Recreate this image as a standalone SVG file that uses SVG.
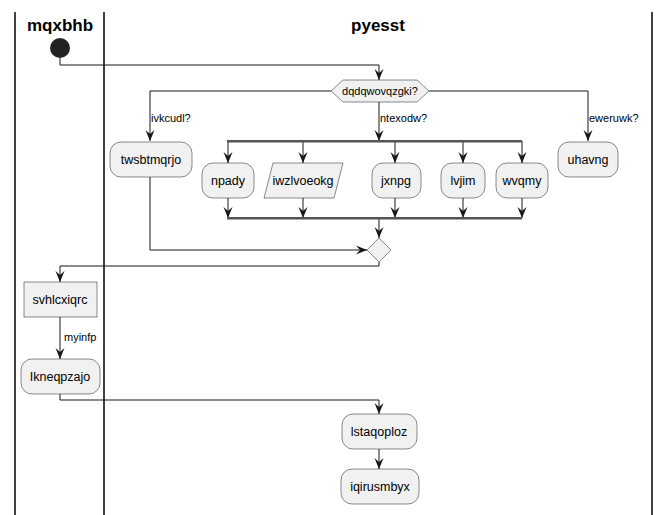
<svg xmlns="http://www.w3.org/2000/svg" width="664" height="515" viewBox="0 0 664 515">
  <defs>
    <marker id="arr" viewBox="0 0 12 10" refX="11" refY="5" markerWidth="12" markerHeight="10" markerUnits="userSpaceOnUse" orient="auto">
      <path d="M0,0.5 L11,5 L0,9.5 L4,5 Z" fill="#181818"/>
    </marker>
    <style>
      .lane { stroke: #000; stroke-width: 1.5; fill: none; }
      .title { font-family: "Liberation Sans", Arial, sans-serif; font-size: 17px; font-weight: bold; fill: #000; text-anchor: middle; }
      .box { fill: #F1F1F1; stroke: #181818; stroke-width: 0.5; }
      .txt { font-family: "Liberation Sans", Arial, sans-serif; font-size: 12.5px; fill: #000; text-anchor: middle; }
      .lbl { font-family: "Liberation Sans", Arial, sans-serif; font-size: 11px; fill: #000; }
      .edge { stroke: #181818; stroke-width: 1; fill: none; }
      .bar { fill: #555555; }
    </style>
  </defs>
  <rect width="664" height="515" fill="#fff"/>

  <!-- swimlanes -->
  <g id="lanes">
    <line class="lane" x1="15" y1="12" x2="15" y2="515"/>
    <line class="lane" x1="104" y1="12" x2="104" y2="515"/>
    <line class="lane" x1="652" y1="12" x2="652" y2="515"/>
    <text class="title" x="60" y="31">mqxbhb</text>
    <text class="title" x="378" y="31">pyesst</text>
  </g>

  <!-- connectors -->
  <g id="connectors">
    <path class="edge" d="M60,58 V65 H379 V80" marker-end="url(#arr)"/>
    <path class="edge" d="M331,91 H150 V141" marker-end="url(#arr)"/>
    <path class="edge" d="M379,102 V141" marker-end="url(#arr)"/>
    <path class="edge" d="M429,91 H588 V141" marker-end="url(#arr)"/>
    <text class="lbl" x="151" y="122">ivkcudl?</text>
    <text class="lbl" x="380" y="122">ntexodw?</text>
    <text class="lbl" x="589" y="122">eweruwk?</text>

    <path class="edge" d="M228,141 V163" marker-end="url(#arr)"/>
    <path class="edge" d="M303,141 V163" marker-end="url(#arr)"/>
    <path class="edge" d="M395,141 V163" marker-end="url(#arr)"/>
    <path class="edge" d="M463,141 V163" marker-end="url(#arr)"/>
    <path class="edge" d="M522,141 V163" marker-end="url(#arr)"/>

    <path class="edge" d="M228,198 V218" marker-end="url(#arr)"/>
    <path class="edge" d="M303,198 V218" marker-end="url(#arr)"/>
    <path class="edge" d="M395,198 V218" marker-end="url(#arr)"/>
    <path class="edge" d="M463,198 V218" marker-end="url(#arr)"/>
    <path class="edge" d="M522,198 V218" marker-end="url(#arr)"/>

    <path class="edge" d="M379,219 V238" marker-end="url(#arr)"/>
    <path class="edge" d="M150,177 V250 H367" marker-end="url(#arr)"/>
    <path class="edge" d="M379,262 V266 H60 V282" marker-end="url(#arr)"/>
    <path class="edge" d="M60,317 V359" marker-end="url(#arr)"/>
    <text class="lbl" x="64" y="341">myinfp</text>
    <path class="edge" d="M60,394 V400 H379 V414" marker-end="url(#arr)"/>
    <path class="edge" d="M379,449 V469" marker-end="url(#arr)"/>
  </g>

  <!-- bars -->
  <g id="fork">
    <rect class="bar" x="227" y="140" width="295" height="2.5"/>
  </g>
  <g id="join">
    <rect class="bar" x="227" y="217" width="295" height="2.5"/>
  </g>

  <!-- nodes -->
  <g id="start">
    <circle cx="60" cy="48" r="10" fill="#222"/>
  </g>
  <g id="dqdqwovqzgki">
    <polygon class="box" points="331,91 343,80 417,80 429,91 417,102 343,102"/>
    <text class="lbl" x="380" y="95" text-anchor="middle">dqdqwovqzgki?</text>
  </g>
  <g id="twsbtmqrjo">
    <rect class="box" x="110" y="142" width="82" height="35" rx="11"/>
    <text class="txt" x="151" y="164">twsbtmqrjo</text>
  </g>
  <g id="npady">
    <rect class="box" x="202" y="163" width="52" height="35" rx="11"/>
    <text class="txt" x="228" y="185">npady</text>
  </g>
  <g id="iwzlvoeokg">
    <polygon class="box" points="273,163 343,163 334,198 264,198"/>
    <text class="txt" x="303" y="185">iwzlvoeokg</text>
  </g>
  <g id="jxnpg">
    <rect class="box" x="372" y="163" width="49" height="35" rx="11"/>
    <text class="txt" x="396" y="185">jxnpg</text>
  </g>
  <g id="lvjim">
    <rect class="box" x="441" y="163" width="44" height="35" rx="11"/>
    <text class="txt" x="463" y="185">lvjim</text>
  </g>
  <g id="wvqmy">
    <rect class="box" x="496" y="163" width="52" height="35" rx="11"/>
    <text class="txt" x="522" y="185">wvqmy</text>
  </g>
  <g id="uhavng">
    <rect class="box" x="558" y="142" width="60" height="35" rx="11"/>
    <text class="txt" x="588" y="164">uhavng</text>
  </g>
  <g id="merge">
    <polygon class="box" points="379,238 391,250 379,262 367,250"/>
  </g>
  <g id="svhlcxiqrc">
    <rect class="box" x="24" y="282" width="73" height="35"/>
    <text class="txt" x="60" y="304">svhlcxiqrc</text>
  </g>
  <g id="Ikneqpzajo">
    <rect class="box" x="21" y="359" width="79" height="35" rx="11"/>
    <text class="txt" x="60" y="381">Ikneqpzajo</text>
  </g>
  <g id="lstaqoploz">
    <rect class="box" x="342" y="414" width="75" height="35" rx="11"/>
    <text class="txt" x="379" y="436">lstaqoploz</text>
  </g>
  <g id="iqirusmbyx">
    <rect class="box" x="341" y="469" width="78" height="35" rx="11"/>
    <text class="txt" x="380" y="491">iqirusmbyx</text>
  </g>
</svg>
